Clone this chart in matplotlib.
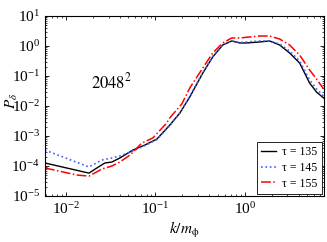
import matplotlib
matplotlib.use('Agg')
import matplotlib.pyplot as plt
from matplotlib.ticker import LogLocator, NullFormatter

## data
k_135 = [0.00583, 0.01807, 0.0240, 0.0273, 0.0327, 0.0401, 0.0561, 0.0764, 0.104, 0.145, 0.188,
         0.243, 0.340, 0.439, 0.568, 0.716, 0.879, 1.05, 1.47, 1.90, 2.46, 3.18, 4.12, 5.33, 6.37, 7.64]
p_135 = [1.26e-4, 5.8e-5, 1.0e-4, 1.26e-4, 1.36e-4, 1.85e-4, 3.4e-4, 5.0e-4, 7.9e-4, 2.3e-3, 5.8e-3,
         0.02, 0.126, 0.43, 1.08, 1.47, 1.26, 1.26, 1.36, 1.47, 1.08, 0.585, 0.27, 0.058, 0.029, 0.0185]

k_145 = [0.00583, 0.01807, 0.0252, 0.0327, 0.0401, 0.0561, 0.0764, 0.104, 0.145, 0.188, 0.243,
         0.340, 0.439, 0.568, 0.716, 0.879, 1.05, 1.47, 1.90, 2.46, 3.18, 4.12, 5.33, 6.37, 7.64]
p_145 = [3.4e-4, 9.3e-5, 1.58e-4, 1.85e-4, 2.15e-4, 3.16e-4, 4.8e-4, 7.6e-4, 2.2e-3, 5.8e-3, 0.021,
         0.13, 0.45, 1.1, 1.47, 1.3, 1.36, 1.47, 1.47, 1.17, 0.68, 0.316, 0.074, 0.037, 0.0215]

k_155 = [0.00583, 0.0133, 0.01807, 0.0252, 0.0327, 0.0401, 0.0519, 0.0706, 0.0938, 0.134, 0.145,
         0.198, 0.243, 0.340, 0.439, 0.568, 0.716, 0.879, 1.47, 1.90, 2.46, 3.18, 4.12, 5.33, 6.37, 7.64]
p_155 = [8.6e-5, 5.0e-5, 4.6e-5, 7.9e-5, 1.0e-4, 1.36e-4, 2.3e-4, 5.8e-4, 8.6e-4, 2.7e-3, 4.0e-3,
         0.0117, 0.04, 0.185, 0.585, 1.26, 1.85, 1.85, 2.15, 2.15, 1.71, 1.08, 0.5, 0.158, 0.079, 0.037]

labels = ['τ = 135', 'τ = 145', 'τ = 155']

## setup
plt.rcParams['font.family'] = ['Liberation Serif', 'DejaVu Serif']
plt.rcParams['mathtext.fontset'] = 'stix'

fig = plt.figure(figsize=(3.27, 2.42), dpi=100)
ax = fig.add_axes([0.1376, 0.190, 0.853, 0.744])

ax.plot(k_135, p_135, '-', color='black', linewidth=1.0, label=labels[0])
ax.plot(k_145, p_145, ':', color='#4060ff', linewidth=1.2, label=labels[1])
ax.plot(k_155, p_155, '-.', color='red', linewidth=1.1, label=labels[2])

ax.set_xscale('log')
ax.set_yscale('log')
ax.set_xlim(0.00583, 7.7)
ax.set_ylim(1e-5, 10)

ax.yaxis.set_major_locator(LogLocator(base=10, numticks=10))
ax.yaxis.set_minor_locator(LogLocator(base=10, subs=range(2, 10), numticks=20))
ax.yaxis.set_minor_formatter(NullFormatter())
ax.tick_params(which='both', direction='in', top=True, right=True, labelsize=11)
ax.tick_params(which='major', length=3, width=0.6)
ax.tick_params(which='minor', length=1.5, width=0.5)
for s in ax.spines.values():
    s.set_linewidth(0.8)

## labels
ax.set_xlabel(r'$k/m_{\mathrm{\phi}}$', fontsize=11, labelpad=2)
ax.set_ylabel(r'$P_{\delta}$', fontsize=11)
ax.yaxis.set_label_coords(-0.09, 0.53)
ax.text(0.24, 0.63, r'$2048^2$', transform=ax.transAxes, fontsize=12, ha='center', va='center')

leg = ax.legend(loc='lower right', fontsize=8.5, handlelength=1.3, fancybox=False,
                edgecolor='black', framealpha=1, borderaxespad=0.2, labelspacing=0.3,
                borderpad=0.35, handletextpad=0.5)
leg.get_frame().set_linewidth(0.6)

fig.savefig('out.png', dpi=100)
